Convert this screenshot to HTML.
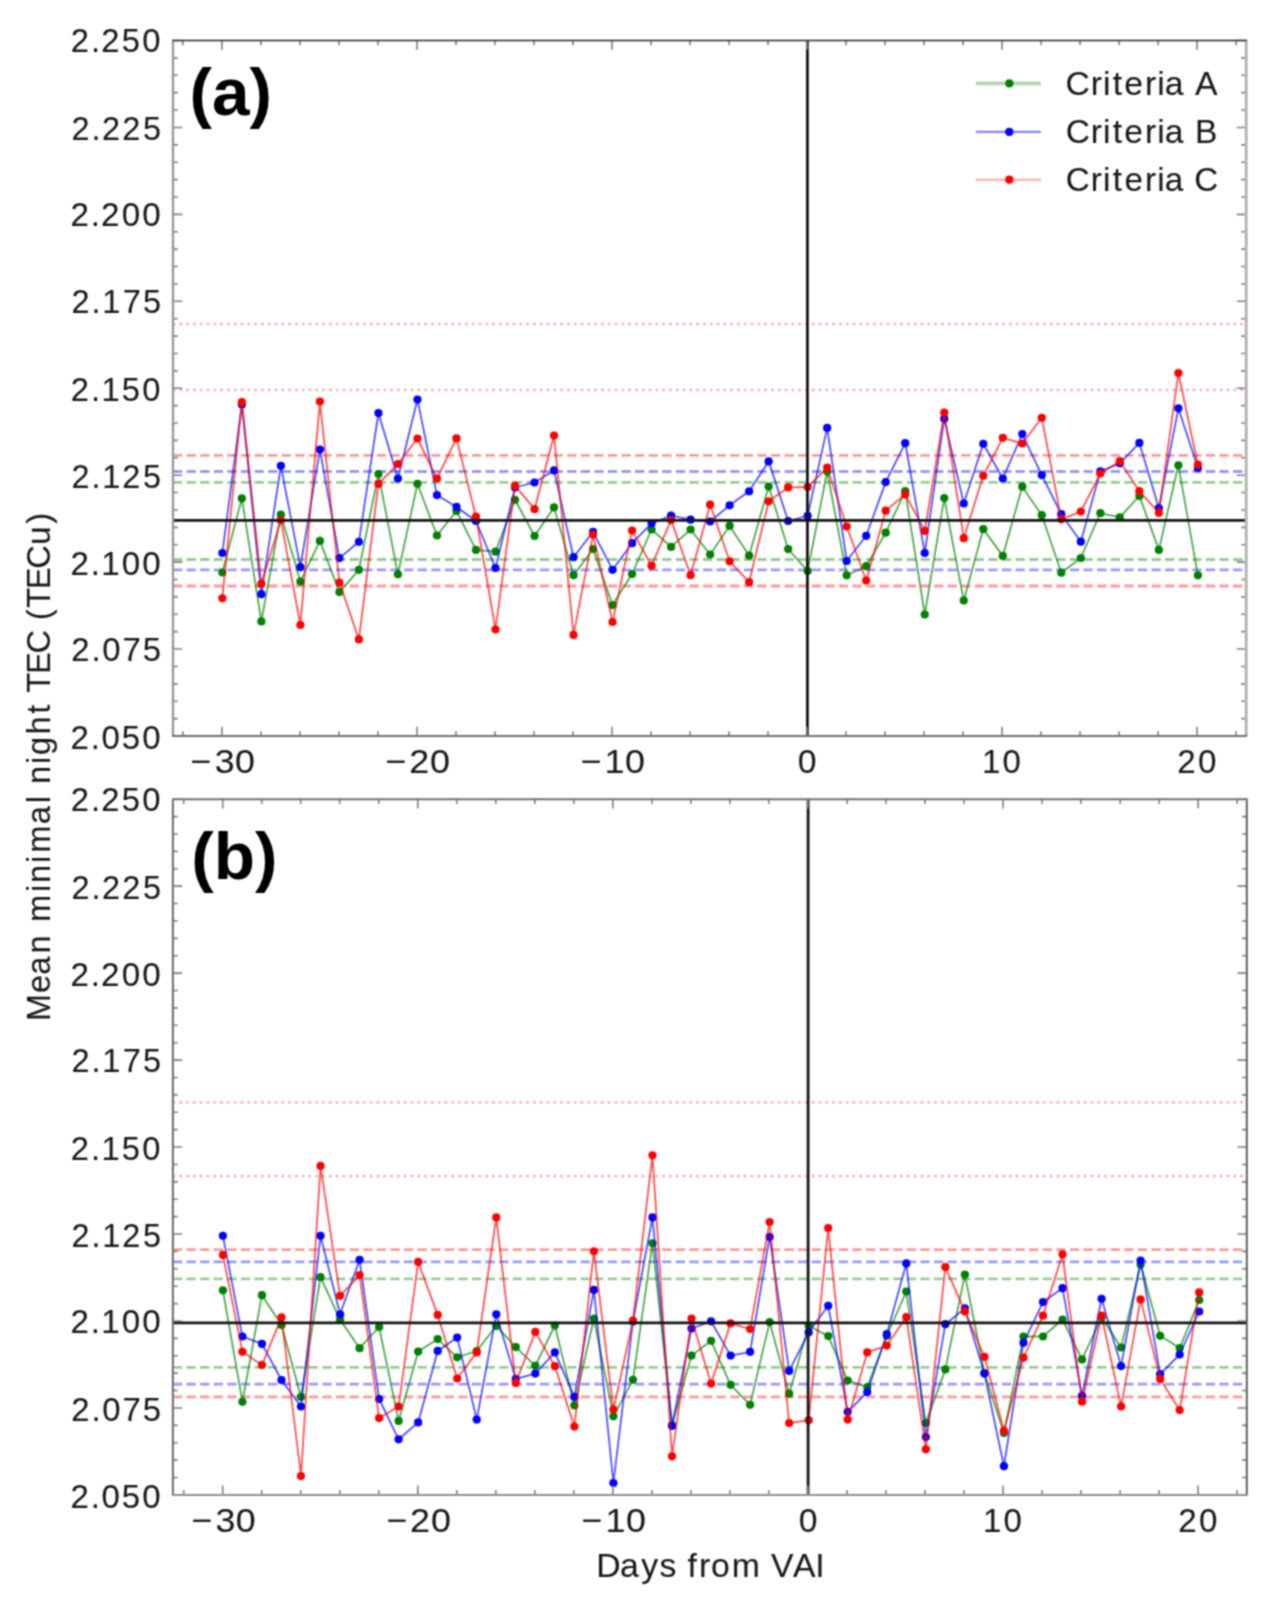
<!DOCTYPE html>
<html><head><meta charset="utf-8"><title>Mean minimal night TEC</title>
<style>
html,body{margin:0;padding:0;background:#fff;}
body{width:1276px;height:1604px;overflow:hidden;}
svg{display:block;}
.tl{font-family:"Liberation Sans",sans-serif;font-size:34px;fill:#1a1a1a;stroke:#1a1a1a;stroke-width:0.12px;}
.pl{font-family:"Liberation Sans",sans-serif;font-size:67.5px;font-weight:bold;fill:#000;}
.al{font-family:"Liberation Sans",sans-serif;font-size:33px;fill:#222;}
</style></head><body>
<svg width="1276" height="1604" viewBox="0 0 1276 1604">
<defs><filter id="soft" filterUnits="userSpaceOnUse" x="0" y="0" width="1276" height="1604" color-interpolation-filters="sRGB"><feConvolveMatrix order="3" kernelMatrix="1 2 1 2 4 2 1 2 1" divisor="16" edgeMode="duplicate" preserveAlpha="false"/></filter></defs>
<g filter="url(#soft)">
<rect width="1276" height="1604" fill="#fff"/>
<clipPath id="clipa"><rect x="173" y="40.5" width="1073" height="695.5"/></clipPath>
<g clip-path="url(#clipa)">
<line x1="173" x2="1246" y1="324.1" y2="324.1" stroke="#ff0000" stroke-opacity="0.36" stroke-width="2.2" stroke-dasharray="2.6 4.2" stroke-dashoffset="0.3"/>
<line x1="173" x2="1246" y1="389.9" y2="389.9" stroke="#ff0000" stroke-opacity="0.36" stroke-width="2.2" stroke-dasharray="2.6 4.2" stroke-dashoffset="0.3"/>
<line x1="173" x2="1246" y1="482.3" y2="482.3" stroke="#008000" stroke-opacity="0.4" stroke-width="2.8" stroke-dasharray="9.3 4.29"/>
<line x1="173" x2="1246" y1="559.5" y2="559.5" stroke="#008000" stroke-opacity="0.4" stroke-width="2.8" stroke-dasharray="9.3 4.29"/>
<line x1="173" x2="1246" y1="471.5" y2="471.5" stroke="#0000ff" stroke-opacity="0.4" stroke-width="2.8" stroke-dasharray="9.3 4.29"/>
<line x1="173" x2="1246" y1="569.8" y2="569.8" stroke="#0000ff" stroke-opacity="0.4" stroke-width="2.8" stroke-dasharray="9.3 4.29"/>
<line x1="173" x2="1246" y1="455.4" y2="455.4" stroke="#ff0000" stroke-opacity="0.4" stroke-width="2.8" stroke-dasharray="9.3 4.29"/>
<line x1="173" x2="1246" y1="586" y2="586" stroke="#ff0000" stroke-opacity="0.4" stroke-width="2.8" stroke-dasharray="9.3 4.29"/>
<polyline fill="none" stroke="#008000" stroke-opacity="0.68" stroke-width="1.8" stroke-linejoin="round" points="222.34,572.5 241.85,498.4 261.36,621.4 280.87,514.7 300.38,581.6 319.89,540.9 339.41,592.1 358.92,569.8 378.43,474 397.94,574.3 417.45,483.8 436.96,535.5 456.47,511 475.98,549.9 495.49,551.7 515,499.8 534.52,536 554.03,507.4 573.54,575.2 593.05,549 612.56,605.1 632.07,574 651.58,529.5 671.09,546.9 690.6,529.5 710.12,554.5 729.63,525.9 749.14,555.6 768.65,486.6 788.16,549.1 807.67,571 827.18,471.5 846.69,575.3 866.2,566.2 885.71,532.7 905.23,491.2 924.74,614.5 944.25,498 963.76,600.6 983.27,529.1 1002.78,555.9 1022.29,486.7 1041.8,515.2 1061.31,572.7 1080.82,558 1100.34,513.2 1119.85,517.3 1139.36,495.9 1158.87,549.9 1178.38,465.3 1197.89,575.3"/>
<g fill="#008000"><circle cx="222.34" cy="572.5" r="4.1"/><circle cx="241.85" cy="498.4" r="4.1"/><circle cx="261.36" cy="621.4" r="4.1"/><circle cx="280.87" cy="514.7" r="4.1"/><circle cx="300.38" cy="581.6" r="4.1"/><circle cx="319.89" cy="540.9" r="4.1"/><circle cx="339.41" cy="592.1" r="4.1"/><circle cx="358.92" cy="569.8" r="4.1"/><circle cx="378.43" cy="474" r="4.1"/><circle cx="397.94" cy="574.3" r="4.1"/><circle cx="417.45" cy="483.8" r="4.1"/><circle cx="436.96" cy="535.5" r="4.1"/><circle cx="456.47" cy="511" r="4.1"/><circle cx="475.98" cy="549.9" r="4.1"/><circle cx="495.49" cy="551.7" r="4.1"/><circle cx="515" cy="499.8" r="4.1"/><circle cx="534.52" cy="536" r="4.1"/><circle cx="554.03" cy="507.4" r="4.1"/><circle cx="573.54" cy="575.2" r="4.1"/><circle cx="593.05" cy="549" r="4.1"/><circle cx="612.56" cy="605.1" r="4.1"/><circle cx="632.07" cy="574" r="4.1"/><circle cx="651.58" cy="529.5" r="4.1"/><circle cx="671.09" cy="546.9" r="4.1"/><circle cx="690.6" cy="529.5" r="4.1"/><circle cx="710.12" cy="554.5" r="4.1"/><circle cx="729.63" cy="525.9" r="4.1"/><circle cx="749.14" cy="555.6" r="4.1"/><circle cx="768.65" cy="486.6" r="4.1"/><circle cx="788.16" cy="549.1" r="4.1"/><circle cx="807.67" cy="571" r="4.1"/><circle cx="827.18" cy="471.5" r="4.1"/><circle cx="846.69" cy="575.3" r="4.1"/><circle cx="866.2" cy="566.2" r="4.1"/><circle cx="885.71" cy="532.7" r="4.1"/><circle cx="905.23" cy="491.2" r="4.1"/><circle cx="924.74" cy="614.5" r="4.1"/><circle cx="944.25" cy="498" r="4.1"/><circle cx="963.76" cy="600.6" r="4.1"/><circle cx="983.27" cy="529.1" r="4.1"/><circle cx="1002.78" cy="555.9" r="4.1"/><circle cx="1022.29" cy="486.7" r="4.1"/><circle cx="1041.8" cy="515.2" r="4.1"/><circle cx="1061.31" cy="572.7" r="4.1"/><circle cx="1080.82" cy="558" r="4.1"/><circle cx="1100.34" cy="513.2" r="4.1"/><circle cx="1119.85" cy="517.3" r="4.1"/><circle cx="1139.36" cy="495.9" r="4.1"/><circle cx="1158.87" cy="549.9" r="4.1"/><circle cx="1178.38" cy="465.3" r="4.1"/><circle cx="1197.89" cy="575.3" r="4.1"/></g>
<polyline fill="none" stroke="#0000ff" stroke-opacity="0.68" stroke-width="1.8" stroke-linejoin="round" points="222.34,553 241.85,404.4 261.36,594.2 280.87,465.8 300.38,567.1 319.89,449.6 339.41,558.1 358.92,541.8 378.43,413 397.94,478.5 417.45,399.5 436.96,495.1 456.47,506.9 475.98,521 495.49,568 515,487.5 534.52,482.5 554.03,470.4 573.54,557.2 593.05,531.8 612.56,569.8 632.07,543.2 651.58,523.3 671.09,515.6 690.6,519.7 710.12,521.5 729.63,505.3 749.14,491.3 768.65,461.4 788.16,521 807.67,515.8 827.18,427.9 846.69,561 866.2,535.8 885.71,482.1 905.23,443.2 924.74,553 944.25,418.8 963.76,503.5 983.27,443.8 1002.78,478.5 1022.29,434.1 1041.8,475.1 1061.31,514.2 1080.82,541.7 1100.34,471.4 1119.85,463.3 1139.36,442.9 1158.87,508.1 1178.38,408.3 1197.89,468"/>
<g fill="#0000ff"><circle cx="222.34" cy="553" r="4.1"/><circle cx="241.85" cy="404.4" r="4.1"/><circle cx="261.36" cy="594.2" r="4.1"/><circle cx="280.87" cy="465.8" r="4.1"/><circle cx="300.38" cy="567.1" r="4.1"/><circle cx="319.89" cy="449.6" r="4.1"/><circle cx="339.41" cy="558.1" r="4.1"/><circle cx="358.92" cy="541.8" r="4.1"/><circle cx="378.43" cy="413" r="4.1"/><circle cx="397.94" cy="478.5" r="4.1"/><circle cx="417.45" cy="399.5" r="4.1"/><circle cx="436.96" cy="495.1" r="4.1"/><circle cx="456.47" cy="506.9" r="4.1"/><circle cx="475.98" cy="521" r="4.1"/><circle cx="495.49" cy="568" r="4.1"/><circle cx="515" cy="487.5" r="4.1"/><circle cx="534.52" cy="482.5" r="4.1"/><circle cx="554.03" cy="470.4" r="4.1"/><circle cx="573.54" cy="557.2" r="4.1"/><circle cx="593.05" cy="531.8" r="4.1"/><circle cx="612.56" cy="569.8" r="4.1"/><circle cx="632.07" cy="543.2" r="4.1"/><circle cx="651.58" cy="523.3" r="4.1"/><circle cx="671.09" cy="515.6" r="4.1"/><circle cx="690.6" cy="519.7" r="4.1"/><circle cx="710.12" cy="521.5" r="4.1"/><circle cx="729.63" cy="505.3" r="4.1"/><circle cx="749.14" cy="491.3" r="4.1"/><circle cx="768.65" cy="461.4" r="4.1"/><circle cx="788.16" cy="521" r="4.1"/><circle cx="807.67" cy="515.8" r="4.1"/><circle cx="827.18" cy="427.9" r="4.1"/><circle cx="846.69" cy="561" r="4.1"/><circle cx="866.2" cy="535.8" r="4.1"/><circle cx="885.71" cy="482.1" r="4.1"/><circle cx="905.23" cy="443.2" r="4.1"/><circle cx="924.74" cy="553" r="4.1"/><circle cx="944.25" cy="418.8" r="4.1"/><circle cx="963.76" cy="503.5" r="4.1"/><circle cx="983.27" cy="443.8" r="4.1"/><circle cx="1002.78" cy="478.5" r="4.1"/><circle cx="1022.29" cy="434.1" r="4.1"/><circle cx="1041.8" cy="475.1" r="4.1"/><circle cx="1061.31" cy="514.2" r="4.1"/><circle cx="1080.82" cy="541.7" r="4.1"/><circle cx="1100.34" cy="471.4" r="4.1"/><circle cx="1119.85" cy="463.3" r="4.1"/><circle cx="1139.36" cy="442.9" r="4.1"/><circle cx="1158.87" cy="508.1" r="4.1"/><circle cx="1178.38" cy="408.3" r="4.1"/><circle cx="1197.89" cy="468" r="4.1"/></g>
<polyline fill="none" stroke="#ff0000" stroke-opacity="0.68" stroke-width="1.8" stroke-linejoin="round" points="222.34,598.3 241.85,402.2 261.36,583.9 280.87,520.1 300.38,625 319.89,401.6 339.41,582.5 358.92,639.4 378.43,483.9 397.94,464 417.45,438.5 436.96,478.5 456.47,438.4 475.98,516.5 495.49,629.5 515,485.7 534.52,509.2 554.03,435.5 573.54,634.9 593.05,534.6 612.56,622 632.07,530.6 651.58,565.7 671.09,520.1 690.6,575.2 710.12,504.7 729.63,561.3 749.14,582.2 768.65,501.3 788.16,487.4 807.67,487 827.18,467.5 846.69,526.5 866.2,580.5 885.71,510.7 905.23,494.4 924.74,530.9 944.25,412.5 963.76,538.2 983.27,475.8 1002.78,437.8 1022.29,443.5 1041.8,417.8 1061.31,519.3 1080.82,511.6 1100.34,473.5 1119.85,461.2 1139.36,491.2 1158.87,512.8 1178.38,373 1197.89,464.7"/>
<g fill="#ff0000"><circle cx="222.34" cy="598.3" r="4.1"/><circle cx="241.85" cy="402.2" r="4.1"/><circle cx="261.36" cy="583.9" r="4.1"/><circle cx="280.87" cy="520.1" r="4.1"/><circle cx="300.38" cy="625" r="4.1"/><circle cx="319.89" cy="401.6" r="4.1"/><circle cx="339.41" cy="582.5" r="4.1"/><circle cx="358.92" cy="639.4" r="4.1"/><circle cx="378.43" cy="483.9" r="4.1"/><circle cx="397.94" cy="464" r="4.1"/><circle cx="417.45" cy="438.5" r="4.1"/><circle cx="436.96" cy="478.5" r="4.1"/><circle cx="456.47" cy="438.4" r="4.1"/><circle cx="475.98" cy="516.5" r="4.1"/><circle cx="495.49" cy="629.5" r="4.1"/><circle cx="515" cy="485.7" r="4.1"/><circle cx="534.52" cy="509.2" r="4.1"/><circle cx="554.03" cy="435.5" r="4.1"/><circle cx="573.54" cy="634.9" r="4.1"/><circle cx="593.05" cy="534.6" r="4.1"/><circle cx="612.56" cy="622" r="4.1"/><circle cx="632.07" cy="530.6" r="4.1"/><circle cx="651.58" cy="565.7" r="4.1"/><circle cx="671.09" cy="520.1" r="4.1"/><circle cx="690.6" cy="575.2" r="4.1"/><circle cx="710.12" cy="504.7" r="4.1"/><circle cx="729.63" cy="561.3" r="4.1"/><circle cx="749.14" cy="582.2" r="4.1"/><circle cx="768.65" cy="501.3" r="4.1"/><circle cx="788.16" cy="487.4" r="4.1"/><circle cx="807.67" cy="487" r="4.1"/><circle cx="827.18" cy="467.5" r="4.1"/><circle cx="846.69" cy="526.5" r="4.1"/><circle cx="866.2" cy="580.5" r="4.1"/><circle cx="885.71" cy="510.7" r="4.1"/><circle cx="905.23" cy="494.4" r="4.1"/><circle cx="924.74" cy="530.9" r="4.1"/><circle cx="944.25" cy="412.5" r="4.1"/><circle cx="963.76" cy="538.2" r="4.1"/><circle cx="983.27" cy="475.8" r="4.1"/><circle cx="1002.78" cy="437.8" r="4.1"/><circle cx="1022.29" cy="443.5" r="4.1"/><circle cx="1041.8" cy="417.8" r="4.1"/><circle cx="1061.31" cy="519.3" r="4.1"/><circle cx="1080.82" cy="511.6" r="4.1"/><circle cx="1100.34" cy="473.5" r="4.1"/><circle cx="1119.85" cy="461.2" r="4.1"/><circle cx="1139.36" cy="491.2" r="4.1"/><circle cx="1158.87" cy="512.8" r="4.1"/><circle cx="1178.38" cy="373" r="4.1"/><circle cx="1197.89" cy="464.7" r="4.1"/></g>
<line x1="173" x2="1246" y1="520.4" y2="520.4" stroke="#141414" stroke-width="2.8"/>
<line x1="807.4" x2="807.4" y1="40.5" y2="736" stroke="#141414" stroke-width="2.8"/>
</g>
<path d="M182.89 736v-4.8M182.89 40.5v4.8M221.9 736v-9.3M221.9 40.5v9.3M260.91 736v-4.8M260.91 40.5v4.8M299.92 736v-4.8M299.92 40.5v4.8M338.92 736v-4.8M338.92 40.5v4.8M377.93 736v-4.8M377.93 40.5v4.8M416.94 736v-9.3M416.94 40.5v9.3M455.95 736v-4.8M455.95 40.5v4.8M494.96 736v-4.8M494.96 40.5v4.8M533.96 736v-4.8M533.96 40.5v4.8M572.97 736v-4.8M572.97 40.5v4.8M611.98 736v-9.3M611.98 40.5v9.3M650.99 736v-4.8M650.99 40.5v4.8M690 736v-4.8M690 40.5v4.8M729 736v-4.8M729 40.5v4.8M768.01 736v-4.8M768.01 40.5v4.8M807.02 736v-9.3M807.02 40.5v9.3M846.03 736v-4.8M846.03 40.5v4.8M885.04 736v-4.8M885.04 40.5v4.8M924.04 736v-4.8M924.04 40.5v4.8M963.05 736v-4.8M963.05 40.5v4.8M1002.06 736v-9.3M1002.06 40.5v9.3M1041.07 736v-4.8M1041.07 40.5v4.8M1080.08 736v-4.8M1080.08 40.5v4.8M1119.08 736v-4.8M1119.08 40.5v4.8M1158.09 736v-4.8M1158.09 40.5v4.8M1197.1 736v-9.3M1197.1 40.5v9.3M1236.11 736v-4.8M1236.11 40.5v4.8M173 736h9.3M1246 736h-9.3M173 718.61h4.8M1246 718.61h-4.8M173 701.23h4.8M1246 701.23h-4.8M173 683.84h4.8M1246 683.84h-4.8M173 666.45h4.8M1246 666.45h-4.8M173 649.06h9.3M1246 649.06h-9.3M173 631.67h4.8M1246 631.67h-4.8M173 614.29h4.8M1246 614.29h-4.8M173 596.9h4.8M1246 596.9h-4.8M173 579.51h4.8M1246 579.51h-4.8M173 562.12h9.3M1246 562.12h-9.3M173 544.74h4.8M1246 544.74h-4.8M173 527.35h4.8M1246 527.35h-4.8M173 509.96h4.8M1246 509.96h-4.8M173 492.57h4.8M1246 492.57h-4.8M173 475.19h9.3M1246 475.19h-9.3M173 457.8h4.8M1246 457.8h-4.8M173 440.41h4.8M1246 440.41h-4.8M173 423.02h4.8M1246 423.02h-4.8M173 405.64h4.8M1246 405.64h-4.8M173 388.25h9.3M1246 388.25h-9.3M173 370.86h4.8M1246 370.86h-4.8M173 353.48h4.8M1246 353.48h-4.8M173 336.09h4.8M1246 336.09h-4.8M173 318.7h4.8M1246 318.7h-4.8M173 301.31h9.3M1246 301.31h-9.3M173 283.93h4.8M1246 283.93h-4.8M173 266.54h4.8M1246 266.54h-4.8M173 249.15h4.8M1246 249.15h-4.8M173 231.76h4.8M1246 231.76h-4.8M173 214.38h9.3M1246 214.38h-9.3M173 196.99h4.8M1246 196.99h-4.8M173 179.6h4.8M1246 179.6h-4.8M173 162.21h4.8M1246 162.21h-4.8M173 144.83h4.8M1246 144.83h-4.8M173 127.44h9.3M1246 127.44h-9.3M173 110.05h4.8M1246 110.05h-4.8M173 92.66h4.8M1246 92.66h-4.8M173 75.27h4.8M1246 75.27h-4.8M173 57.89h4.8M1246 57.89h-4.8M173 40.5h9.3M1246 40.5h-9.3" stroke="#808080" stroke-width="1.6" fill="none"/>
<line x1="172" x2="1247.2" y1="40.5" y2="40.5" stroke="#2a2a2a" stroke-width="1.6"/>
<line x1="172" x2="1247.2" y1="736" y2="736" stroke="#707070" stroke-width="2.1"/>
<line x1="173" x2="173" y1="41.3" y2="735" stroke="#999" stroke-width="2.4"/>
<line x1="1246.2" x2="1246.2" y1="41.3" y2="735" stroke="#b4b4b4" stroke-width="3.0"/>
<text class="tl" transform="translate(70.02 749.00) scale(0.9718 1)" x="0.58 21.44 32.43 53.25 74.33">2.050</text>
<text class="tl" transform="translate(70.69 660.86) scale(0.9665 1)" x="0.63 21.59 32.66 53.66 74.66">2.075</text>
<text class="tl" transform="translate(70.02 574.62) scale(0.9751 1)" x="0.54 21.36 32.12 53.17 74.05">2.100</text>
<text class="tl" transform="translate(70.69 488.09) scale(0.9525 1)" x="0.78 21.98 33.12 54.21 75.90">2.125</text>
<text class="tl" transform="translate(70.02 400.95) scale(0.9614 1)" x="0.69 21.73 32.72 53.93 75.24">2.150</text>
<text class="tl" transform="translate(70.69 313.01) scale(0.9558 1)" x="0.75 21.88 32.97 54.36 75.60">2.175</text>
<text class="tl" transform="translate(70.02 226.47) scale(0.9768 1)" x="0.53 21.31 31.78 53.06 73.90">2.200</text>
<text class="tl" transform="translate(70.69 139.94) scale(0.9545 1)" x="0.76 21.92 32.75 54.08 75.72">2.225</text>
<text class="tl" transform="translate(70.02 52.40) scale(0.9632 1)" x="0.67 21.68 32.36 53.81 75.08">2.250</text>
<text class="tl" transform="translate(187.65 772.90) scale(1.0537 1)" x="2.79 25.69 44.97">−30</text>
<text class="tl" transform="translate(382.69 772.90) scale(1.0561 1)" x="2.76 25.17 44.84">−20</text>
<text class="tl" transform="translate(577.73 772.90) scale(1.0552 1)" x="2.77 25.41 44.89">−10</text>
<text class="tl" transform="translate(797.00 772.90) scale(0.9921 1)" x="0.80">0</text>
<text class="tl" transform="translate(981.16 772.90) scale(0.9710 1)" x="0.85 21.99">10</text>
<text class="tl" transform="translate(1176.78 772.90) scale(0.9746 1)" x="0.55 21.87">20</text>
<text class="pl" x="189.54" y="115.10">(a)</text>
<clipPath id="clipb"><rect x="172.9" y="799.2" width="1073.9" height="695.7"/></clipPath>
<g clip-path="url(#clipb)">
<line x1="172.9" x2="1246.8" y1="1102.3" y2="1102.3" stroke="#ff0000" stroke-opacity="0.36" stroke-width="2.2" stroke-dasharray="2.6 4.2" stroke-dashoffset="0.3"/>
<line x1="172.9" x2="1246.8" y1="1176.1" y2="1176.1" stroke="#ff0000" stroke-opacity="0.36" stroke-width="2.2" stroke-dasharray="2.6 4.2" stroke-dashoffset="0.3"/>
<line x1="172.9" x2="1246.8" y1="1278.9" y2="1278.9" stroke="#008000" stroke-opacity="0.4" stroke-width="2.8" stroke-dasharray="9.3 4.29"/>
<line x1="172.9" x2="1246.8" y1="1367.3" y2="1367.3" stroke="#008000" stroke-opacity="0.4" stroke-width="2.8" stroke-dasharray="9.3 4.29"/>
<line x1="172.9" x2="1246.8" y1="1261.9" y2="1261.9" stroke="#0000ff" stroke-opacity="0.4" stroke-width="2.8" stroke-dasharray="9.3 4.29"/>
<line x1="172.9" x2="1246.8" y1="1384.2" y2="1384.2" stroke="#0000ff" stroke-opacity="0.4" stroke-width="2.8" stroke-dasharray="9.3 4.29"/>
<line x1="172.9" x2="1246.8" y1="1249.6" y2="1249.6" stroke="#ff0000" stroke-opacity="0.4" stroke-width="2.8" stroke-dasharray="9.3 4.29"/>
<line x1="172.9" x2="1246.8" y1="1396.9" y2="1396.9" stroke="#ff0000" stroke-opacity="0.4" stroke-width="2.8" stroke-dasharray="9.3 4.29"/>
<polyline fill="none" stroke="#008000" stroke-opacity="0.68" stroke-width="1.8" stroke-linejoin="round" points="222.9,1290.3 242.43,1401.8 261.95,1295.2 281.48,1324.9 301,1396.9 320.53,1277.2 340.06,1319.6 359.58,1348.2 379.11,1327 398.63,1420.9 418.16,1351.6 437.69,1339.1 457.21,1357.3 476.74,1351 496.26,1325.9 515.79,1347.1 535.32,1365.8 554.84,1325.5 574.37,1405.4 593.89,1318.5 613.42,1416.3 632.95,1379.8 652.47,1243.3 672,1425 691.52,1355.6 711.05,1340.8 730.58,1384.8 750.1,1404.8 769.63,1322.1 789.15,1393.7 808.68,1325.7 828.21,1336.1 847.73,1380.6 867.26,1387 886.78,1336 906.31,1291.6 925.84,1423 945.36,1369.4 964.89,1274.6 984.41,1373 1003.94,1433 1023.47,1336.5 1042.99,1336.5 1062.52,1319.5 1082.04,1359.4 1101.57,1317.4 1121.1,1347.5 1140.62,1264.4 1160.15,1335.8 1179.67,1348.1 1199.2,1300"/>
<g fill="#008000"><circle cx="222.9" cy="1290.3" r="4.1"/><circle cx="242.43" cy="1401.8" r="4.1"/><circle cx="261.95" cy="1295.2" r="4.1"/><circle cx="281.48" cy="1324.9" r="4.1"/><circle cx="301" cy="1396.9" r="4.1"/><circle cx="320.53" cy="1277.2" r="4.1"/><circle cx="340.06" cy="1319.6" r="4.1"/><circle cx="359.58" cy="1348.2" r="4.1"/><circle cx="379.11" cy="1327" r="4.1"/><circle cx="398.63" cy="1420.9" r="4.1"/><circle cx="418.16" cy="1351.6" r="4.1"/><circle cx="437.69" cy="1339.1" r="4.1"/><circle cx="457.21" cy="1357.3" r="4.1"/><circle cx="476.74" cy="1351" r="4.1"/><circle cx="496.26" cy="1325.9" r="4.1"/><circle cx="515.79" cy="1347.1" r="4.1"/><circle cx="535.32" cy="1365.8" r="4.1"/><circle cx="554.84" cy="1325.5" r="4.1"/><circle cx="574.37" cy="1405.4" r="4.1"/><circle cx="593.89" cy="1318.5" r="4.1"/><circle cx="613.42" cy="1416.3" r="4.1"/><circle cx="632.95" cy="1379.8" r="4.1"/><circle cx="652.47" cy="1243.3" r="4.1"/><circle cx="672" cy="1425" r="4.1"/><circle cx="691.52" cy="1355.6" r="4.1"/><circle cx="711.05" cy="1340.8" r="4.1"/><circle cx="730.58" cy="1384.8" r="4.1"/><circle cx="750.1" cy="1404.8" r="4.1"/><circle cx="769.63" cy="1322.1" r="4.1"/><circle cx="789.15" cy="1393.7" r="4.1"/><circle cx="808.68" cy="1325.7" r="4.1"/><circle cx="828.21" cy="1336.1" r="4.1"/><circle cx="847.73" cy="1380.6" r="4.1"/><circle cx="867.26" cy="1387" r="4.1"/><circle cx="886.78" cy="1336" r="4.1"/><circle cx="906.31" cy="1291.6" r="4.1"/><circle cx="925.84" cy="1423" r="4.1"/><circle cx="945.36" cy="1369.4" r="4.1"/><circle cx="964.89" cy="1274.6" r="4.1"/><circle cx="984.41" cy="1373" r="4.1"/><circle cx="1003.94" cy="1433" r="4.1"/><circle cx="1023.47" cy="1336.5" r="4.1"/><circle cx="1042.99" cy="1336.5" r="4.1"/><circle cx="1062.52" cy="1319.5" r="4.1"/><circle cx="1082.04" cy="1359.4" r="4.1"/><circle cx="1101.57" cy="1317.4" r="4.1"/><circle cx="1121.1" cy="1347.5" r="4.1"/><circle cx="1140.62" cy="1264.4" r="4.1"/><circle cx="1160.15" cy="1335.8" r="4.1"/><circle cx="1179.67" cy="1348.1" r="4.1"/><circle cx="1199.2" cy="1300" r="4.1"/></g>
<polyline fill="none" stroke="#0000ff" stroke-opacity="0.68" stroke-width="1.8" stroke-linejoin="round" points="222.9,1235.8 242.43,1336.5 261.95,1343.9 281.48,1380 301,1406.5 320.53,1235.8 340.06,1314.3 359.58,1259.8 379.11,1399 398.63,1439.3 418.16,1422.4 437.69,1350.9 457.21,1337.6 476.74,1419.6 496.26,1314.3 515.79,1378.9 535.32,1373.6 554.84,1352.4 574.37,1396.9 593.89,1289.9 613.42,1483 632.95,1321.5 652.47,1217.4 672,1426 691.52,1328.5 711.05,1321.3 730.58,1355.6 750.1,1351.8 769.63,1236.9 789.15,1370.9 808.68,1332.3 828.21,1305.8 847.73,1411.8 867.26,1392 886.78,1334.2 906.31,1263.4 925.84,1437.1 945.36,1324.2 964.89,1308.4 984.41,1373.6 1003.94,1466.2 1023.47,1342.8 1042.99,1302.1 1062.52,1288.2 1082.04,1395.8 1101.57,1298.8 1121.1,1366.1 1140.62,1260.6 1160.15,1374.2 1179.67,1354.5 1199.2,1311.5"/>
<g fill="#0000ff"><circle cx="222.9" cy="1235.8" r="4.1"/><circle cx="242.43" cy="1336.5" r="4.1"/><circle cx="261.95" cy="1343.9" r="4.1"/><circle cx="281.48" cy="1380" r="4.1"/><circle cx="301" cy="1406.5" r="4.1"/><circle cx="320.53" cy="1235.8" r="4.1"/><circle cx="340.06" cy="1314.3" r="4.1"/><circle cx="359.58" cy="1259.8" r="4.1"/><circle cx="379.11" cy="1399" r="4.1"/><circle cx="398.63" cy="1439.3" r="4.1"/><circle cx="418.16" cy="1422.4" r="4.1"/><circle cx="437.69" cy="1350.9" r="4.1"/><circle cx="457.21" cy="1337.6" r="4.1"/><circle cx="476.74" cy="1419.6" r="4.1"/><circle cx="496.26" cy="1314.3" r="4.1"/><circle cx="515.79" cy="1378.9" r="4.1"/><circle cx="535.32" cy="1373.6" r="4.1"/><circle cx="554.84" cy="1352.4" r="4.1"/><circle cx="574.37" cy="1396.9" r="4.1"/><circle cx="593.89" cy="1289.9" r="4.1"/><circle cx="613.42" cy="1483" r="4.1"/><circle cx="632.95" cy="1321.5" r="4.1"/><circle cx="652.47" cy="1217.4" r="4.1"/><circle cx="672" cy="1426" r="4.1"/><circle cx="691.52" cy="1328.5" r="4.1"/><circle cx="711.05" cy="1321.3" r="4.1"/><circle cx="730.58" cy="1355.6" r="4.1"/><circle cx="750.1" cy="1351.8" r="4.1"/><circle cx="769.63" cy="1236.9" r="4.1"/><circle cx="789.15" cy="1370.9" r="4.1"/><circle cx="808.68" cy="1332.3" r="4.1"/><circle cx="828.21" cy="1305.8" r="4.1"/><circle cx="847.73" cy="1411.8" r="4.1"/><circle cx="867.26" cy="1392" r="4.1"/><circle cx="886.78" cy="1334.2" r="4.1"/><circle cx="906.31" cy="1263.4" r="4.1"/><circle cx="925.84" cy="1437.1" r="4.1"/><circle cx="945.36" cy="1324.2" r="4.1"/><circle cx="964.89" cy="1308.4" r="4.1"/><circle cx="984.41" cy="1373.6" r="4.1"/><circle cx="1003.94" cy="1466.2" r="4.1"/><circle cx="1023.47" cy="1342.8" r="4.1"/><circle cx="1042.99" cy="1302.1" r="4.1"/><circle cx="1062.52" cy="1288.2" r="4.1"/><circle cx="1082.04" cy="1395.8" r="4.1"/><circle cx="1101.57" cy="1298.8" r="4.1"/><circle cx="1121.1" cy="1366.1" r="4.1"/><circle cx="1140.62" cy="1260.6" r="4.1"/><circle cx="1160.15" cy="1374.2" r="4.1"/><circle cx="1179.67" cy="1354.5" r="4.1"/><circle cx="1199.2" cy="1311.5" r="4.1"/></g>
<polyline fill="none" stroke="#ff0000" stroke-opacity="0.68" stroke-width="1.8" stroke-linejoin="round" points="222.9,1254.9 242.43,1351.8 261.95,1365.1 281.48,1317.4 301,1476 320.53,1165.9 340.06,1295.8 359.58,1275.1 379.11,1418.1 398.63,1406.5 418.16,1261.9 437.69,1314.9 457.21,1378.5 476.74,1352.4 496.26,1217.4 515.79,1383.1 535.32,1331.9 554.84,1366.2 574.37,1426.6 593.89,1251.3 613.42,1409.6 632.95,1320.5 652.47,1155.3 672,1456.3 691.52,1318.5 711.05,1383.6 730.58,1323.4 750.1,1329.1 769.63,1222.1 789.15,1423 808.68,1420.2 828.21,1228 847.73,1419.6 867.26,1352.4 886.78,1345.6 906.31,1317.2 925.84,1449.3 945.36,1267 964.89,1311.4 984.41,1356.8 1003.94,1430.8 1023.47,1357.7 1042.99,1315.7 1062.52,1254.3 1082.04,1401.7 1101.57,1315.7 1121.1,1406.4 1140.62,1299.4 1160.15,1378.9 1179.67,1410.1 1199.2,1292.4"/>
<g fill="#ff0000"><circle cx="222.9" cy="1254.9" r="4.1"/><circle cx="242.43" cy="1351.8" r="4.1"/><circle cx="261.95" cy="1365.1" r="4.1"/><circle cx="281.48" cy="1317.4" r="4.1"/><circle cx="301" cy="1476" r="4.1"/><circle cx="320.53" cy="1165.9" r="4.1"/><circle cx="340.06" cy="1295.8" r="4.1"/><circle cx="359.58" cy="1275.1" r="4.1"/><circle cx="379.11" cy="1418.1" r="4.1"/><circle cx="398.63" cy="1406.5" r="4.1"/><circle cx="418.16" cy="1261.9" r="4.1"/><circle cx="437.69" cy="1314.9" r="4.1"/><circle cx="457.21" cy="1378.5" r="4.1"/><circle cx="476.74" cy="1352.4" r="4.1"/><circle cx="496.26" cy="1217.4" r="4.1"/><circle cx="515.79" cy="1383.1" r="4.1"/><circle cx="535.32" cy="1331.9" r="4.1"/><circle cx="554.84" cy="1366.2" r="4.1"/><circle cx="574.37" cy="1426.6" r="4.1"/><circle cx="593.89" cy="1251.3" r="4.1"/><circle cx="613.42" cy="1409.6" r="4.1"/><circle cx="632.95" cy="1320.5" r="4.1"/><circle cx="652.47" cy="1155.3" r="4.1"/><circle cx="672" cy="1456.3" r="4.1"/><circle cx="691.52" cy="1318.5" r="4.1"/><circle cx="711.05" cy="1383.6" r="4.1"/><circle cx="730.58" cy="1323.4" r="4.1"/><circle cx="750.1" cy="1329.1" r="4.1"/><circle cx="769.63" cy="1222.1" r="4.1"/><circle cx="789.15" cy="1423" r="4.1"/><circle cx="808.68" cy="1420.2" r="4.1"/><circle cx="828.21" cy="1228" r="4.1"/><circle cx="847.73" cy="1419.6" r="4.1"/><circle cx="867.26" cy="1352.4" r="4.1"/><circle cx="886.78" cy="1345.6" r="4.1"/><circle cx="906.31" cy="1317.2" r="4.1"/><circle cx="925.84" cy="1449.3" r="4.1"/><circle cx="945.36" cy="1267" r="4.1"/><circle cx="964.89" cy="1311.4" r="4.1"/><circle cx="984.41" cy="1356.8" r="4.1"/><circle cx="1003.94" cy="1430.8" r="4.1"/><circle cx="1023.47" cy="1357.7" r="4.1"/><circle cx="1042.99" cy="1315.7" r="4.1"/><circle cx="1062.52" cy="1254.3" r="4.1"/><circle cx="1082.04" cy="1401.7" r="4.1"/><circle cx="1101.57" cy="1315.7" r="4.1"/><circle cx="1121.1" cy="1406.4" r="4.1"/><circle cx="1140.62" cy="1299.4" r="4.1"/><circle cx="1160.15" cy="1378.9" r="4.1"/><circle cx="1179.67" cy="1410.1" r="4.1"/><circle cx="1199.2" cy="1292.4" r="4.1"/></g>
<line x1="172.9" x2="1246.8" y1="1322.9" y2="1322.9" stroke="#141414" stroke-width="2.8"/>
<line x1="808.1" x2="808.1" y1="799.2" y2="1494.9" stroke="#141414" stroke-width="2.8"/>
</g>
<path d="M183.68 1494.9v-4.8M183.68 799.2v4.8M222.7 1494.9v-9.3M222.7 799.2v9.3M261.72 1494.9v-4.8M261.72 799.2v4.8M300.73 1494.9v-4.8M300.73 799.2v4.8M339.75 1494.9v-4.8M339.75 799.2v4.8M378.76 1494.9v-4.8M378.76 799.2v4.8M417.78 1494.9v-9.3M417.78 799.2v9.3M456.8 1494.9v-4.8M456.8 799.2v4.8M495.81 1494.9v-4.8M495.81 799.2v4.8M534.83 1494.9v-4.8M534.83 799.2v4.8M573.84 1494.9v-4.8M573.84 799.2v4.8M612.86 1494.9v-9.3M612.86 799.2v9.3M651.88 1494.9v-4.8M651.88 799.2v4.8M690.89 1494.9v-4.8M690.89 799.2v4.8M729.91 1494.9v-4.8M729.91 799.2v4.8M768.92 1494.9v-4.8M768.92 799.2v4.8M807.94 1494.9v-9.3M807.94 799.2v9.3M846.96 1494.9v-4.8M846.96 799.2v4.8M885.97 1494.9v-4.8M885.97 799.2v4.8M924.99 1494.9v-4.8M924.99 799.2v4.8M964 1494.9v-4.8M964 799.2v4.8M1003.02 1494.9v-9.3M1003.02 799.2v9.3M1042.04 1494.9v-4.8M1042.04 799.2v4.8M1081.05 1494.9v-4.8M1081.05 799.2v4.8M1120.07 1494.9v-4.8M1120.07 799.2v4.8M1159.08 1494.9v-4.8M1159.08 799.2v4.8M1198.1 1494.9v-9.3M1198.1 799.2v9.3M1237.12 1494.9v-4.8M1237.12 799.2v4.8M172.9 1494.9h9.3M1246.8 1494.9h-9.3M172.9 1477.51h4.8M1246.8 1477.51h-4.8M172.9 1460.12h4.8M1246.8 1460.12h-4.8M172.9 1442.72h4.8M1246.8 1442.72h-4.8M172.9 1425.33h4.8M1246.8 1425.33h-4.8M172.9 1407.94h9.3M1246.8 1407.94h-9.3M172.9 1390.55h4.8M1246.8 1390.55h-4.8M172.9 1373.15h4.8M1246.8 1373.15h-4.8M172.9 1355.76h4.8M1246.8 1355.76h-4.8M172.9 1338.37h4.8M1246.8 1338.37h-4.8M172.9 1320.98h9.3M1246.8 1320.98h-9.3M172.9 1303.58h4.8M1246.8 1303.58h-4.8M172.9 1286.19h4.8M1246.8 1286.19h-4.8M172.9 1268.8h4.8M1246.8 1268.8h-4.8M172.9 1251.4h4.8M1246.8 1251.4h-4.8M172.9 1234.01h9.3M1246.8 1234.01h-9.3M172.9 1216.62h4.8M1246.8 1216.62h-4.8M172.9 1199.23h4.8M1246.8 1199.23h-4.8M172.9 1181.84h4.8M1246.8 1181.84h-4.8M172.9 1164.44h4.8M1246.8 1164.44h-4.8M172.9 1147.05h9.3M1246.8 1147.05h-9.3M172.9 1129.66h4.8M1246.8 1129.66h-4.8M172.9 1112.27h4.8M1246.8 1112.27h-4.8M172.9 1094.87h4.8M1246.8 1094.87h-4.8M172.9 1077.48h4.8M1246.8 1077.48h-4.8M172.9 1060.09h9.3M1246.8 1060.09h-9.3M172.9 1042.7h4.8M1246.8 1042.7h-4.8M172.9 1025.3h4.8M1246.8 1025.3h-4.8M172.9 1007.91h4.8M1246.8 1007.91h-4.8M172.9 990.52h4.8M1246.8 990.52h-4.8M172.9 973.13h9.3M1246.8 973.13h-9.3M172.9 955.73h4.8M1246.8 955.73h-4.8M172.9 938.34h4.8M1246.8 938.34h-4.8M172.9 920.95h4.8M1246.8 920.95h-4.8M172.9 903.56h4.8M1246.8 903.56h-4.8M172.9 886.16h9.3M1246.8 886.16h-9.3M172.9 868.77h4.8M1246.8 868.77h-4.8M172.9 851.38h4.8M1246.8 851.38h-4.8M172.9 833.99h4.8M1246.8 833.99h-4.8M172.9 816.59h4.8M1246.8 816.59h-4.8M172.9 799.2h9.3M1246.8 799.2h-9.3" stroke="#808080" stroke-width="1.6" fill="none"/>
<line x1="171.9" x2="1247.8" y1="799.2" y2="799.2" stroke="#707070" stroke-width="2.1"/>
<line x1="171.9" x2="1247.8" y1="1494.9" y2="1494.9" stroke="#909090" stroke-width="2.0"/>
<line x1="172.9" x2="172.9" y1="800.2" y2="1494" stroke="#707070" stroke-width="2.1"/>
<line x1="1246.8" x2="1246.8" y1="800.2" y2="1494" stroke="#606060" stroke-width="2.0"/>
<text class="tl" transform="translate(70.02 1508.10) scale(0.9718 1)" x="0.58 21.44 32.43 53.25 74.33">2.050</text>
<text class="tl" transform="translate(70.69 1420.84) scale(0.9665 1)" x="0.63 21.59 32.66 53.66 74.66">2.075</text>
<text class="tl" transform="translate(70.02 1333.23) scale(0.9751 1)" x="0.54 21.36 32.12 53.17 74.05">2.100</text>
<text class="tl" transform="translate(70.69 1246.51) scale(0.9525 1)" x="0.78 21.98 33.12 54.21 75.90">2.125</text>
<text class="tl" transform="translate(70.02 1159.95) scale(0.9614 1)" x="0.69 21.73 32.72 53.93 75.24">2.150</text>
<text class="tl" transform="translate(70.69 1072.49) scale(0.9558 1)" x="0.75 21.88 32.97 54.36 75.60">2.175</text>
<text class="tl" transform="translate(70.02 985.77) scale(0.9768 1)" x="0.53 21.31 31.78 53.06 73.90">2.200</text>
<text class="tl" transform="translate(70.69 898.66) scale(0.9545 1)" x="0.76 21.92 32.75 54.08 75.72">2.225</text>
<text class="tl" transform="translate(70.02 811.15) scale(0.9632 1)" x="0.67 21.68 32.36 53.81 75.08">2.250</text>
<text class="tl" transform="translate(188.45 1531.80) scale(1.0537 1)" x="2.79 25.69 44.97">−30</text>
<text class="tl" transform="translate(383.53 1531.80) scale(1.0561 1)" x="2.76 25.17 44.84">−20</text>
<text class="tl" transform="translate(578.61 1531.80) scale(1.0552 1)" x="2.77 25.41 44.89">−10</text>
<text class="tl" transform="translate(797.92 1531.80) scale(0.9921 1)" x="0.80">0</text>
<text class="tl" transform="translate(982.12 1531.80) scale(0.9710 1)" x="0.85 21.99">10</text>
<text class="tl" transform="translate(1177.78 1531.80) scale(0.9746 1)" x="0.55 21.87">20</text>
<text class="pl" x="191.30" y="879.30">(b)</text>
<line x1="975.8" x2="1040.9" y1="83.4" y2="83.4" stroke="#b5d3b9" stroke-width="3.6"/>
<circle cx="1009.3" cy="83.4" r="4.1" fill="#008000"/>
<text class="tl" transform="translate(1066.80 94.70) scale(0.9927 1)" x="-1.21 24.09 36.48 46.23 57.88 78.77 91.16 98.60 119.55 129.08">Criteria A</text>
<line x1="975.8" x2="1040.9" y1="131.9" y2="131.9" stroke="#8585ff" stroke-width="2.1"/>
<circle cx="1009.3" cy="131.9" r="4.1" fill="#0000ff"/>
<text class="tl" transform="translate(1066.80 142.80) scale(0.9888 1)" x="-1.16 24.21 36.64 46.43 58.15 79.11 91.54 99.03 120.04 129.62">Criteria B</text>
<line x1="975.8" x2="1040.9" y1="179.7" y2="179.7" stroke="#ffa0a0" stroke-width="2.1"/>
<circle cx="1009.3" cy="179.7" r="4.1" fill="#ff0000"/>
<text class="tl" transform="translate(1066.80 190.80) scale(0.9783 1)" x="-1.04 24.54 37.07 46.98 58.87 80.03 92.56 100.20 121.38 130.26">Criteria C</text>
<text class="tl" transform="translate(596.10 1577.30) scale(0.9939 1)" x="0.17 23.98 45.54 63.69 80.74 91.94 103.49 115.55 136.46 166.61 176.11 198.14 220.52">Days from VAI</text>
<text class="tl" transform="translate(50.3 767.0) rotate(-90) translate(-254.48 0) scale(0.9599 1)" x="0.23 29.63 48.80 70.88 91.40 103.59 134.77 144.34 165.16 175.71 205.54 227.30 236.29 247.49 268.30 277.61 298.99 320.71 332.63 342.46 362.11 383.25 407.93 417.93 430.76 450.42 471.56 496.69 518.48">Mean minimal night TEC (TECu)</text>
</g>
</svg>
</body></html>
